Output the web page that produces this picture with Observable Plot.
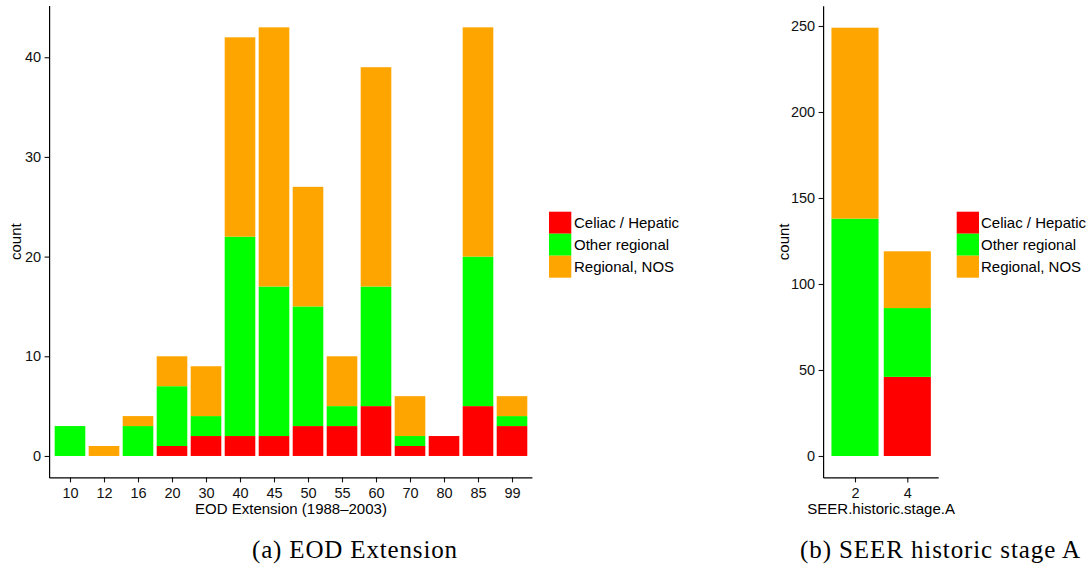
<!DOCTYPE html>
<html><head><meta charset="utf-8">
<script src="https://cdn.jsdelivr.net/npm/d3@7"></script>
<script src="https://cdn.jsdelivr.net/npm/@observablehq/plot@0.6"></script>
<style>
html,body{margin:0;padding:0;background:#fff;}
#root{position:relative;width:1089px;height:566px;overflow:hidden;font-family:"Liberation Sans",Arial,sans-serif;}
#root > svg{position:absolute;}
</style></head><body><div id="root"></div>
<script>
// ---- data ----
const seriesNames = ["Celiac / Hepatic", "Other regional", "Regional, NOS"];
const seriesColors = ["#FF0000", "#00FF00", "#FFA500"];

const eodCategories = ["10","12","16","20","30","40","45","50","55","60","70","80","85","99"];
const eodCeliac   = [0,0,0,1,2, 2, 2, 3,3, 5,1,2, 5,3];
const eodOther    = [3,0,3,6,2,20,15,12,2,12,1,0,15,1];
const eodRegional = [0,1,1,3,5,20,26,12,5,22,4,0,23,2];
const eodYTicks = [0,10,20,30,40];

const stageCategories = ["2","4"];
const stageCeliac   = [0, 46];
const stageOther    = [138, 40];
const stageRegional = [111, 33];
const stageYTicks = [0,50,100,150,200,250];

const captions = ["(a) EOD Extension", "(b) SEER historic stage A"];

// ---- helpers ----
const root = document.getElementById("root");
const FONT = '"Liberation Sans", Arial, sans-serif';

function toRows(cats, cols) {
  const rows = [];
  cats.forEach((c, i) => cols.forEach((arr, j) => {
    if (arr[i] > 0) rows.push({cat: c, series: seriesNames[j], count: arr[i]});
  }));
  return rows;
}

function makeChart(o) {
  const rows = toRows(o.cats, o.cols);
  const total = d3.max(o.cats, (c, i) => d3.sum(o.cols, a => a[i]));
  const pad = total * 0.05;
  const chart = Plot.plot({
    width: o.width, height: o.height,
    marginLeft: o.ml, marginRight: o.mr, marginTop: o.mt, marginBottom: o.mb,
    style: {fontFamily: FONT, fontSize: "14.5px", color: "#111", background: "transparent", overflow: "visible"},
    x: {type: "band", domain: o.cats, paddingInner: 0.1, paddingOuter: 0.15, align: 0.5, round: false},
    y: {domain: [-pad, total + pad]},
    color: {domain: seriesNames, range: seriesColors},
    marks: [
      Plot.barY(rows, {x: "cat", y: "count", fill: "series", order: seriesNames}),
      Plot.axisY({ticks: o.yTicks, tickSize: 5, tickPadding: 4, label: null, fontSize: 14.5, strokeWidth: 1.1}),
      Plot.axisX({tickSize: 5, tickPadding: 5, label: null, fontSize: 14.5, strokeWidth: 1.1}),
      Plot.ruleY([-pad], {stroke: "#000", strokeWidth: 1.2})
    ]
  });
  const svg = d3.select(chart);
  // left axis line
  svg.append("line")
    .attr("x1", o.ml).attr("x2", o.ml)
    .attr("y1", o.mt).attr("y2", o.height - o.mb + 0.6)
    .attr("stroke", "#000").attr("stroke-width", 1.2);
  // x axis title
  svg.append("text")
    .attr("x", o.ml + (o.width - o.ml - o.mr) / 2).attr("y", o.xTitleY)
    .attr("text-anchor", "middle").attr("font-size", 15).attr("fill", "#000")
    .attr("font-family", FONT).text(o.xTitle);
  // y axis title
  const cy = o.mt + (o.height - o.mt - o.mb) / 2;
  svg.append("text")
    .attr("transform", `translate(${o.yTitleX},${cy}) rotate(-90)`)
    .attr("text-anchor", "middle").attr("font-size", 15).attr("fill", "#000")
    .attr("font-family", FONT).text("count");
  chart.style.left = o.left + "px";
  chart.style.top = "0px";
  root.appendChild(chart);
}

makeChart({
  cats: eodCategories, cols: [eodCeliac, eodOther, eodRegional], yTicks: eodYTicks,
  left: 0, width: 540, height: 520, ml: 49.6, mr: 7.6, mt: 5.9, mb: 42.6,
  xTitle: "EOD Extension (1988\u20132003)", xTitleY: 513.5, yTitleX: 20.7
});

makeChart({
  cats: stageCategories, cols: [stageCeliac, stageOther, stageRegional], yTicks: stageYTicks,
  left: 760, width: 185, height: 520, ml: 63.6, mr: 6.3, mt: 6.3, mb: 42.6,
  xTitle: "SEER.historic.stage.A", xTitleY: 513.5, yTitleX: 28.7
});

// ---- legends and captions overlay ----
const overlay = d3.select(root).append("svg")
  .attr("width", 1089).attr("height", 566)
  .style("left", "0px").style("top", "0px").style("pointer-events", "none");

[[549, 574], [956.7, 981]].forEach(([kx, tx]) => {
  const g = overlay.append("g");
  seriesNames.forEach((name, i) => {
    g.append("rect").attr("x", kx).attr("y", 211.7 + 22 * i)
      .attr("width", 22.3).attr("height", 22).attr("fill", seriesColors[i]);
    g.append("text").attr("x", tx).attr("y", 228.4 + 22 * i)
      .attr("font-size", 15).attr("font-family", FONT).attr("fill", "#000").text(name);
  });
});

[[354.5, 205], [940, 280]].forEach(([cx, len], i) => {
  overlay.append("text").attr("x", cx).attr("y", 558)
    .attr("text-anchor", "middle")
    .attr("font-family", '"Liberation Serif", "Times New Roman", serif')
    .attr("font-size", 25).attr("fill", "#000")
    .attr("textLength", len).attr("lengthAdjust", "spacing")
    .text(captions[i]);
});
</script>
</body></html>
